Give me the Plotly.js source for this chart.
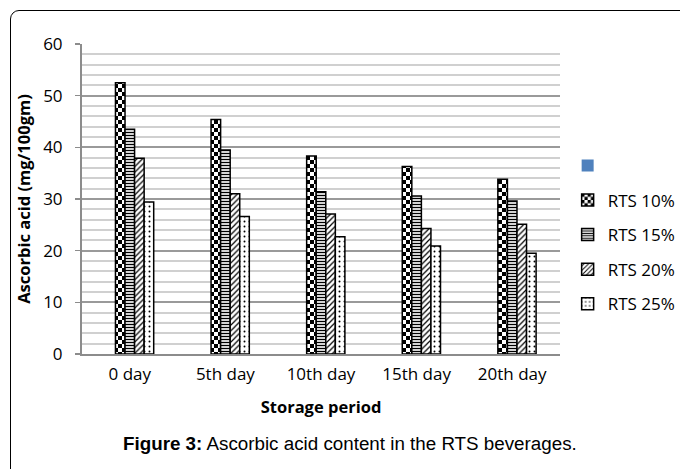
<!DOCTYPE html>
<html>
<head>
<meta charset="utf-8">
<script src="https://cdn.plot.ly/plotly-3.0.1.min.js"></script>
<style>
  html, body { margin: 0; padding: 0; background: #fff; }
  #frame { position: absolute; left: 10px; top: 10px; width: 720px; height: 520px;
           border: 1px solid #000; border-radius: 9px; }
  #chart { position: absolute; left: 0; top: 0; width: 680px; height: 469px; }
</style>
</head>
<body>
<div id="frame"></div>
<div id="chart"></div>
<script>
const categories = ["0 day", "5th day", "10th day", "15th day", "20th day"];
const seriesNames = ["RTS 10%", "RTS 15%", "RTS 20%", "RTS 25%"];
const rts10 = [52.5, 45.4, 38.3, 36.3, 33.8];
const rts15 = [43.5, 39.5, 31.4, 30.6, 29.6];
const rts20 = [37.9, 31.0, 27.1, 24.3, 25.1];
const rts25 = [29.4, 26.6, 22.7, 20.9, 19.5];
const emptySeries = [null, null, null, null, null];

const patterns = [
  {shape: "+", size: 8, solidity: 0.5, fgcolor: "#010101", bgcolor: "#ffffff"},
  {shape: "-", size: 3, solidity: 0.45, fgcolor: "#000000", bgcolor: "#ffffff"},
  {shape: "/", size: 4, solidity: 0.3, fgcolor: "#000000", bgcolor: "#ffffff"},
  {shape: ".", size: 5, solidity: 0.12, fgcolor: "#000000", bgcolor: "#ffffff"}
];
const values = [rts10, rts15, rts20, rts25];

const traces = [{
  type: "bar", x: categories, y: emptySeries, name: " ",
  marker: {color: "#4F81BD"}, legendgroup: "g0", showlegend: true
}];
values.forEach((v, i) => {
  traces.push({
    type: "bar", x: categories, y: v, name: seriesNames[i],
    legendgroup: "g" + (i + 1),
    marker: {color: "#ffffff", line: {color: "#000000", width: 1.5},
             pattern: Object.assign({fillmode: "replace"}, patterns[i])}
  });
});

const font = "'Open Sans', sans-serif";
const layout = {
  width: 680, height: 469,
  paper_bgcolor: "rgba(0,0,0,0)", plot_bgcolor: "rgba(0,0,0,0)",
  margin: {l: 82, r: 120, t: 44, b: 115, autoexpand: false},
  barmode: "group", bargap: 0.5, bargroupgap: 0,
  showlegend: true,
  legend: {x: 1.016, y: 0.665, xanchor: "left", yanchor: "top",
           font: {family: font, size: 17, color: "#000"},
           tracegroupgap: 9.5, itemwidth: 30, traceorder: "grouped"},
  xaxis: {
    type: "category", showline: true, linecolor: "#8c8c8c", linewidth: 2,
    ticks: "", tickfont: {family: font, size: 17, color: "#000"},
    ticklabelstandoff: 4,
    title: {text: "<b>Storage period</b>", font: {family: font, size: 16.5, color: "#000"}, standoff: 17},
    showgrid: false
  },
  yaxis: {
    range: [0, 60], dtick: 10, showline: true, linecolor: "#8c8c8c", linewidth: 2,
    ticks: "outside", ticklen: 5, tickcolor: "#8c8c8c", tickwidth: 1.5,
    ticklabelstandoff: 9,
    tickfont: {family: font, size: 17, color: "#000"},
    gridcolor: "#9a9a9a", gridwidth: 2,
    minor: {dtick: 2, showgrid: true, gridcolor: "#d0d0d0", gridwidth: 2, ticks: ""},
    zeroline: false,
    title: {text: "<b>Ascorbic acid (mg/100gm)</b>", font: {family: font, size: 16.5, color: "#000"}, standoff: 8}
  },
  annotations: [{
    xref: "paper", yref: "paper", x: 0.56, y: -0.29, xanchor: "center", yanchor: "middle",
    showarrow: false,
    text: "<b>Figure 3:</b> Ascorbic acid content in the RTS beverages.",
    font: {family: "'Liberation Sans', Arial, sans-serif", size: 18.8, color: "#000"}
  }]
};

function checkerize(gd) {
  const pats = gd.querySelectorAll("pattern");
  pats.forEach(p => {
    const html = p.outerHTML;
    if (html.indexOf("rgb(1, 1, 1)") >= 0 || html.indexOf("#010101") >= 0) {
      const w = parseFloat(p.getAttribute("width")) || 8;
      const h = parseFloat(p.getAttribute("height")) || 8;
      while (p.firstChild) p.removeChild(p.firstChild);
      const ns = "http://www.w3.org/2000/svg";
      const mk = (x, y, ww, hh, c) => {
        const r = document.createElementNS(ns, "rect");
        r.setAttribute("x", x); r.setAttribute("y", y);
        r.setAttribute("width", ww); r.setAttribute("height", hh);
        r.setAttribute("fill", c); p.appendChild(r);
      };
      mk(0, 0, w, h, "#ffffff");
      mk(0, 0, w / 2, h / 2, "#000000");
      mk(w / 2, h / 2, w / 2, h / 2, "#000000");
    }
  });
}

Plotly.newPlot("chart", traces, layout, {staticPlot: true}).then(gd => {
  checkerize(gd);
});
</script>
</body>
</html>
